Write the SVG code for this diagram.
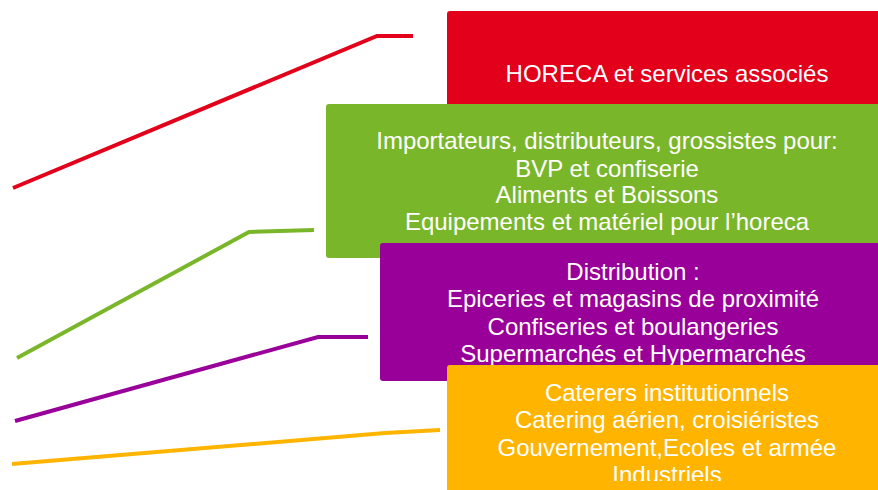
<svg xmlns="http://www.w3.org/2000/svg" width="878" height="490" viewBox="0 0 878 490">
<defs>
<style>
.box text{font-family:"Liberation Sans",Arial,sans-serif;fill:#fff;text-anchor:middle;font-size:24px}
.conn polyline{fill:none;stroke-width:4;stroke-linejoin:miter}
</style>
<clipPath id="clipO"><rect x="447" y="365" width="440" height="116"/></clipPath>
</defs>
<rect width="878" height="490" fill="#fff"/>
<g class="conn" id="connectors">
<polyline points="13,188 377,36 413,36" stroke="#E2001A"/>
<polyline points="17,358 249,232 314,230" stroke="#7AB62A"/>
<polyline points="15,421 318,337 368,337" stroke="#990099"/>
<polyline points="12,464 385,433 440,430" stroke="#FFB400"/>
</g>
<g class="box" id="node-horeca">
<rect x="447" y="11" width="440" height="140" rx="3" fill="#E2001A"/>
<text x="667" y="82">HORECA et services associés</text>
</g>
<g class="box" id="node-importateurs">
<rect x="326" y="104" width="560" height="154" rx="3" fill="#7AB62A"/>
<text><tspan x="607" y="149.3">Importateurs, distributeurs, grossistes pour:</tspan><tspan x="607" y="176.6">BVP et confiserie</tspan><tspan x="607" y="203.4">Aliments et Boissons</tspan><tspan x="607" y="230">Equipements et matériel pour l’horeca</tspan></text>
</g>
<g class="box" id="node-distribution">
<rect x="380" y="243" width="510" height="138" rx="3" fill="#990099"/>
<text><tspan x="633" y="280">Distribution :</tspan><tspan x="633" y="307.3">Epiceries et magasins de proximité</tspan><tspan x="633" y="335">Confiseries et boulangeries</tspan><tspan x="633" y="361.7">Supermarchés et Hypermarchés</tspan></text>
</g>
<g class="box" id="node-caterers">
<rect x="447" y="365" width="440" height="130" rx="3" fill="#FFB400"/>
<text clip-path="url(#clipO)"><tspan x="667" y="400.7">Caterers institutionnels</tspan><tspan x="667" y="428.3">Catering aérien, croisiéristes</tspan><tspan x="667" y="455.7">Gouvernement,Ecoles et armée</tspan><tspan x="667" y="483">Industriels</tspan></text>
</g>
</svg>
